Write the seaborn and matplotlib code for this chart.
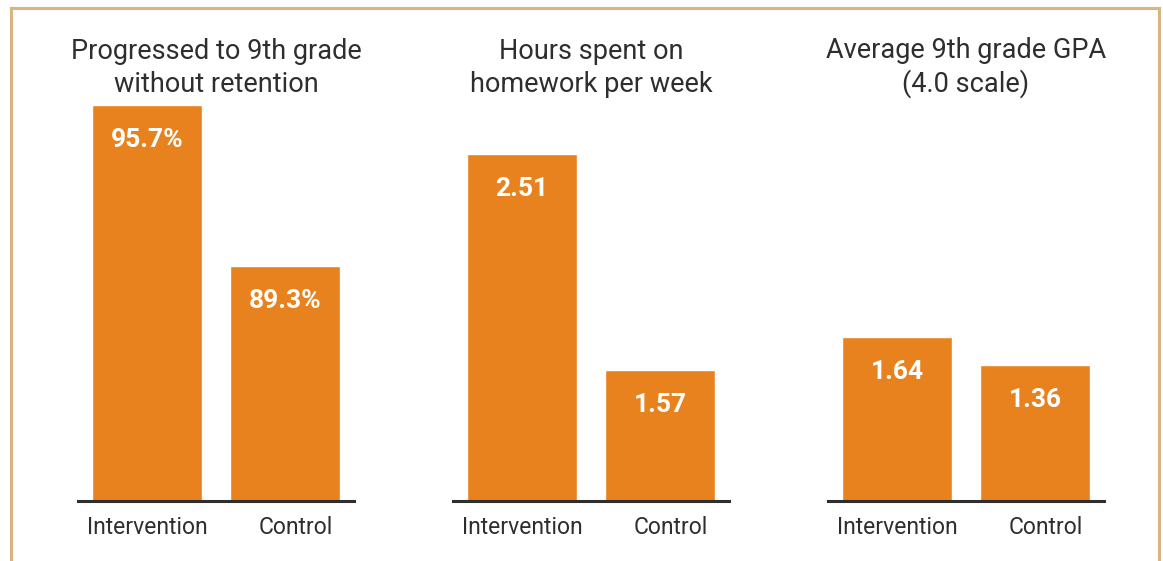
import numpy as np
import pandas as pd
import matplotlib.pyplot as plt
import matplotlib.transforms as mtransforms
import seaborn as sns
from matplotlib.patches import Rectangle

# data
groups = ["Intervention", "Control"]
titles = ["Progressed to 9th grade\nwithout retention",
          "Hours spent on\nhomework per week",
          "Average 9th grade GPA\n(4.0 scale)"]
progressed = [95.7, 89.3]
homework = [2.51, 1.57]
gpa = [1.64, 1.36]
labels = [["95.7%", "89.3%"], ["2.51", "1.57"], ["1.64", "1.36"]]
y_floor = [80, 1, 0]
y_span = [15.9, 1.745, 4.01]

ORANGE = "#E8821E"
FRAME = "#D9B67F"
TEXT = "#2E2E2E"

sns.set_style("white")
plt.rcParams["font.family"] = ["Roboto", "DejaVu Sans"]

fig = plt.figure(figsize=(11.63, 5.61), dpi=100)

# tan frame around the figure (bottom edge runs off the image)
fig.patches.append(Rectangle((11 / 1163, -0.05), 1148 / 1163, 1.05 - 8 / 561,
                             transform=fig.transFigure, fill=False,
                             edgecolor=FRAME, linewidth=2.2))

series = [progressed, homework, gpa]
lefts = [78, 453, 828]
for i, vals in enumerate(series):
    ax = fig.add_axes([lefts[i] / 1163, 60 / 561, 276 / 1163, 401 / 561])
    df = pd.DataFrame({"group": groups, "value": vals})
    sns.barplot(data=df, x="group", y="value", color=ORANGE, saturation=1,
                width=0.804, ax=ax)
    ax.set_xlim(-0.5, 1.5)
    ax.set_ylim(y_floor[i], y_floor[i] + y_span[i])
    ax.set_xlabel("")
    ax.set_ylabel("")
    ax.set_yticks([])
    sns.despine(ax=ax, left=True)
    ax.spines["bottom"].set_color(TEXT)
    ax.spines["bottom"].set_linewidth(2.2)
    ax.tick_params(axis="x", length=0, pad=11, labelsize=16.5, labelcolor=TEXT)
    # the "Control" label sits a little right of its bar in the original
    shift = mtransforms.ScaledTranslation(0.11, 0, fig.dpi_scale_trans)
    lab = ax.get_xticklabels()[1]
    lab.set_transform(lab.get_transform() + shift)
    ax.set_title(titles[i], fontsize=19.5, color=TEXT, pad=6,
                 linespacing=1.25)
    for j, v in enumerate(vals):
        ax.annotate(labels[i][j], (j, v), xytext=(0, -25),
                    textcoords="offset points", ha="center", va="center",
                    color="white", fontsize=19, fontweight="bold")

plt.savefig("out.png", dpi=100)
